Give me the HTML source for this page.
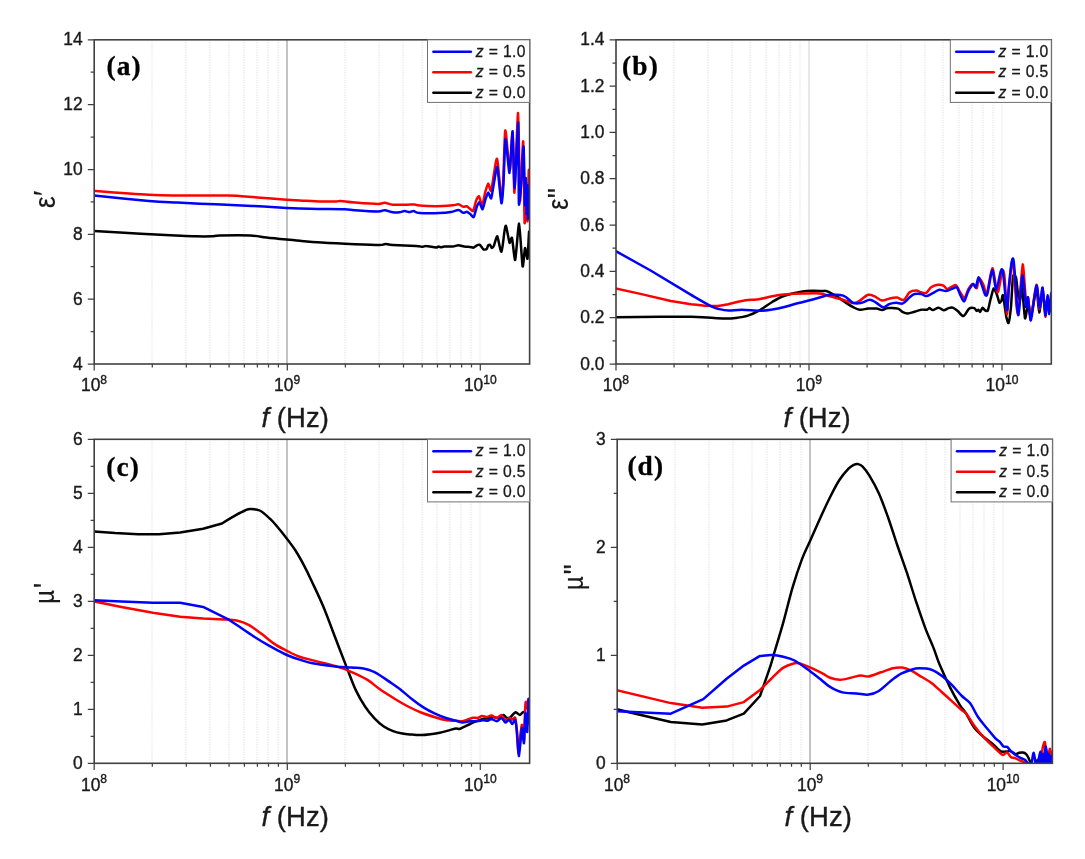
<!DOCTYPE html>
<html lang="en"><head><meta charset="utf-8"><title>Permittivity and permeability spectra</title>
<style>html,body{margin:0;padding:0;background:#fff}svg{display:block}text{white-space:pre}</style></head>
<body>
<svg width="1085" height="859" viewBox="0 0 1085 859">
<rect width="1085" height="859" fill="#fff"/>
<g id="panel-a">
<path d="M152 39.8V364M186 39.8V364M210 39.8V364M229 39.8V364M244 39.8V364M257 39.8V364M268 39.8V364M278 39.8V364M345 39.8V364M379 39.8V364M403 39.8V364M422 39.8V364M437 39.8V364M450 39.8V364M461 39.8V364M471 39.8V364" stroke="#ebebeb" stroke-width="2" stroke-dasharray="1 1.5" fill="none"/>
<path d="M287 39.8V364" stroke="#c3c3c3" stroke-width="2" fill="none"/>
<path d="M480 39.8V364" stroke="#f7f7f7" stroke-width="2" fill="none"/>
<clipPath id="clip-a"><rect x="94.2" y="39.8" width="435.4" height="324.2"/></clipPath>
<g clip-path="url(#clip-a)" fill="none" stroke-width="2.5" stroke-linejoin="round" stroke-linecap="round">
<path d="M93.2 231C101 231.4 127.2 233 140.7 233.7C154.2 234.4 166.2 235.1 175.2 235.5C184.2 235.9 189.4 236.2 195.4 236.3C201.4 236.4 207.7 236.4 211.7 236.3C215.7 236.2 213.4 235.6 219.8 235.5C226.2 235.4 242.5 235.2 250.2 235.5C257.9 235.8 260.4 236.8 266.4 237.5C272.4 238.2 281.2 239 286.7 239.5C292.2 240 294.2 240.3 300 240.8C305.8 241.3 312.6 241.9 321.6 242.5C330.6 243.1 345.1 243.8 354.7 244.2C364.3 244.6 374.5 245 379.6 245C384.7 245 383.2 244 385.4 244C387.6 244 387.8 244.7 392.9 245C398 245.3 411.2 245.8 416.1 246.1C421 246.4 421.2 246.8 422.8 246.8C423.8 246.8 424.8 245.9 426.1 246C428.3 246.1 434 247.4 436 247.5C437.2 247.6 438 246.5 438.5 246.5C439 246.5 440.4 247.3 441 247.3C441.6 247.3 443.1 246.7 444.3 246.6C446.2 246.5 450.3 246.7 452.6 246.5C454.9 246.3 456.5 245.3 458.4 245.3C460.3 245.3 462.3 246.2 464.2 246.5C466.1 246.8 468.5 246.7 470 246.9C470.9 247 472.7 247.8 473.3 247.7C473.9 247.6 475.9 245.9 476.5 245.6C477.1 245.3 479.1 244.4 479.8 244.8C480.5 245.2 482.7 248.9 483.4 249.3C484.1 249.7 486.2 249.3 486.7 248.9C487.2 248.5 487.8 246 488.1 245.6C488.4 245.2 489.6 244.6 490 244.8C490.4 245.1 491.6 248 492 248.1C492.4 248.2 493.5 246.8 494 245.6C494.5 244.4 496.6 235.7 497.3 236.3C498 236.9 500.6 252.9 501.4 251.8C502.8 250.1 504.3 227.2 505.6 225.7C506.4 224.8 508.9 241.6 509.5 242.8C510.1 244 511.4 236.2 512 237.9C512.6 239.6 514.5 261.3 515.2 259.9C515.9 258.5 518.4 222.9 519.1 223.6C519.8 224.2 522 263.9 522.6 266.4C523.2 268.8 524.5 248.9 525 248.1C525.5 247.3 527.1 260.3 527.5 258.7C527.9 257.1 528.8 233.7 529.1 231.8C529.4 229.9 530.5 239.2 530.6 240" stroke="#000"/>
<path d="M93.2 190.7C102.4 191.4 134.9 193.9 148.8 194.7C162.7 195.5 164.1 195.4 177.2 195.5C190.3 195.6 215.5 195.3 227.9 195.5C240.3 195.7 242.5 196.3 252.2 197C261.9 197.7 278.8 199.2 286.7 199.8C294.6 200.4 294.2 200.1 300 200.4C305.8 200.7 315.6 201.3 321.6 201.5C327.6 201.7 333.4 201.6 336.5 201.5C338.4 201.4 338.8 200.8 340.6 200.9C343.6 201.1 348.5 202 354.7 202.5C360.9 203 373.1 204 378 204C382.9 204 382.1 202.7 384.6 202.8C387.1 202.9 389.3 204.4 392.9 204.7C396.5 205 402.6 204.7 406.2 204.7C409.8 204.7 412.3 204.4 414.5 204.5C416.7 204.6 415.9 205.2 419.4 205.5C422.9 205.8 430.5 206.2 436 206.2C441.5 206.2 448.9 205.6 452.6 205.3C456.3 205 456.6 204.1 458.4 204.3C460.2 204.5 462 206.5 463.4 206.8C464.2 207 466 206 466.7 206.2C467.4 206.4 469.3 208.4 470 208.9C470.7 209.4 472.7 211.7 473.3 210.9C473.9 210.1 475.5 202.2 476.1 200.7C476.7 199.2 478.4 195.8 479 196.3C479.6 196.8 481.6 206 482.2 205.6C482.8 205.2 484.5 194.8 485.1 192.6C485.7 190.4 487.5 183.8 488.1 183.6C488.7 183.4 490.4 191.7 491 191C491.6 190.3 493 179.5 493.6 176.3C494.2 173.1 496.3 156.6 497.1 158.9C498.4 162.6 500.4 195.5 501.4 199C502 201.1 502.9 186.9 503.3 180C503.7 173.1 504.6 131.4 505.2 130.4C506.3 128.8 508.6 169.6 509.8 170C510.5 170.3 512.1 130.7 512.6 133C513.1 135.3 513.9 194.6 514.4 192.6C514.9 190.6 517.5 112.1 518.1 112.9C518.7 113.7 519.5 198.2 520 201C520.5 203.8 522.7 139.2 523.2 141.4C523.7 143.6 524.3 217.9 524.6 222.8C524.9 227.7 525.7 190.2 526 190C526.3 189.8 527.2 223.2 527.5 221.2C527.8 219.2 528.5 173.8 528.8 170.3C529.1 166.8 530.4 184.4 530.6 186" stroke="#f00"/>
<path d="M93.2 195.5C102.4 196.4 134.9 199.8 148.8 201C162.7 202.2 166.2 202.1 177.2 202.6C188.2 203.1 203.3 203.8 215.7 204.3C228.1 204.8 240.5 205.3 252.2 205.9C263.9 206.5 278.8 207.5 286.7 207.9C294.6 208.3 294.8 208.3 300 208.5C305.2 208.7 310.8 208.9 318.2 209C325.6 209.1 338.8 209.1 344.8 209.3C350.8 209.5 349.2 209.9 354.7 210.3C360.2 210.7 373.1 211.5 378 211.5C382.9 211.5 382.1 210.2 384.6 210.3C387.1 210.4 390.4 212 392.9 212.3C395.4 212.6 397.6 212.5 399.5 212.3C401.4 212.1 402.9 211.1 404.5 211.1C406.1 211.1 408 212.1 409.5 212.1C410.4 212.1 412.6 211 413.6 211.1C415.2 211.2 415.2 212.7 419.4 213C423.6 213.3 434.1 213.3 439.3 213.1C444.5 212.9 447.8 212.5 451 212C454.2 211.5 456.4 210 458.4 210.1C460.4 210.2 462 212.5 463.4 212.8C464.2 213 466 211.7 466.7 211.8C467.4 211.9 469.3 213.3 470 213.8C470.7 214.3 473 217.7 473.7 217C474.4 216.3 476.3 208 476.9 206.5C477.5 205 478.8 202.1 479.4 202.4C480 202.7 482 209.6 482.6 209.3C483.2 209 484.9 200.8 485.5 199.1C486.1 197.4 487.7 192.7 488.3 192.6C488.9 192.5 490.6 199.3 491.2 198.3C491.8 197.3 493.4 185.9 494 182.8C494.6 179.7 496.6 165 497.3 167C498 169 500.8 201.5 501.4 203.2C502 204.9 503 190.8 503.4 184.4C503.8 178 504.9 140 505.5 138.9C506.1 137.8 508.8 173.8 509.5 173C510.2 172.2 512.1 129.7 512.6 131.2C513.1 132.7 514.1 188.9 514.7 188C515.3 187.1 517.8 121 518.2 122.6C518.6 124.2 518.6 198.3 518.9 204C519.2 209.7 521 185.7 521.5 180C522 174.3 523.2 144.2 523.6 146.7C524 149.2 524.8 201.9 525 205C525.2 208.1 525.6 177.1 525.8 178C526 178.9 526.4 213.3 526.6 214C526.8 214.7 527.3 184.5 527.4 185C527.5 185.5 527.8 218.2 527.9 218.7C528 219.2 528.5 190.3 528.6 190C528.7 189.7 529 215 529.2 216C529.4 217 530.5 201.6 530.6 200" stroke="#00f"/>
</g>
<rect x="94.2" y="39.8" width="435.4" height="324.2" fill="none" stroke="#404040" stroke-width="1.6"/>
<rect x="427.5" y="39.8" width="102.1" height="62.6" fill="#fff" stroke="#707070" stroke-width="1"/>
<path d="M433.4 51.8H470.9" stroke="#00f" stroke-width="2.5" stroke-linecap="round"/>
<text x="475.7" y="56.8" font-family='"Liberation Sans", Arial, sans-serif' font-size="15.7" fill="#1a1a1a" stroke="#1a1a1a" stroke-width="0.3" textLength="49.8" lengthAdjust="spacing"><tspan font-style="italic">z</tspan> = 1.0</text>
<path d="M433.4 72.3H470.9" stroke="#f00" stroke-width="2.5" stroke-linecap="round"/>
<text x="475.7" y="77.3" font-family='"Liberation Sans", Arial, sans-serif' font-size="15.7" fill="#1a1a1a" stroke="#1a1a1a" stroke-width="0.3" textLength="49.8" lengthAdjust="spacing"><tspan font-style="italic">z</tspan> = 0.5</text>
<path d="M433.4 92.8H470.9" stroke="#000" stroke-width="2.5" stroke-linecap="round"/>
<text x="475.7" y="97.8" font-family='"Liberation Sans", Arial, sans-serif' font-size="15.7" fill="#1a1a1a" stroke="#1a1a1a" stroke-width="0.3" textLength="49.8" lengthAdjust="spacing"><tspan font-style="italic">z</tspan> = 0.0</text>
<path d="M94.2 364v6.6M152.3 364v3.5M186.3 364v3.5M210.4 364v3.5M229.1 364v3.5M244.4 364v3.5M257.4 364v3.5M268.5 364v3.5M278.4 364v3.5M287.3 364v6.6M345.4 364v3.5M379.4 364v3.5M403.5 364v3.5M422.2 364v3.5M437.5 364v3.5M450.4 364v3.5M461.6 364v3.5M471.5 364v3.5M480.3 364v6.6M94.2 364h-6.4M94.2 299.2h-6.4M94.2 234.3h-6.4M94.2 169.5h-6.4M94.2 104.6h-6.4M94.2 39.8h-6.4M94.2 331.6h-3.5M94.2 266.7h-3.5M94.2 201.9h-3.5M94.2 137.1h-3.5M94.2 72.2h-3.5" stroke="#404040" stroke-width="1.25" fill="none"/>
<g font-family='"Liberation Sans", Arial, sans-serif' font-size="19.0" fill="#1a1a1a" stroke="#1a1a1a" stroke-width="0.4">
<text transform="translate(82.6 369.6) scale(0.915 1)" text-anchor="end">4</text>
<text transform="translate(82.6 304.8) scale(0.915 1)" text-anchor="end">6</text>
<text transform="translate(82.6 239.9) scale(0.915 1)" text-anchor="end">8</text>
<text transform="translate(82.6 175.1) scale(0.915 1)" text-anchor="end">10</text>
<text transform="translate(82.6 110.2) scale(0.915 1)" text-anchor="end">12</text>
<text transform="translate(82.6 45.4) scale(0.915 1)" text-anchor="end">14</text>
<text transform="translate(81 391.3) scale(0.915 1)">10<tspan dy="-7.6" font-size="13.2">8</tspan></text>
<text transform="translate(274.1 391.3) scale(0.915 1)">10<tspan dy="-7.6" font-size="13.2">9</tspan></text>
<text transform="translate(463.9 391.3) scale(0.915 1)">10<tspan dy="-7.6" font-size="13.2">10</tspan></text>
</g>
<text x="295.2" y="426.6" font-family='"Liberation Sans", Arial, sans-serif' font-size="27.5" fill="#1a1a1a" stroke="#1a1a1a" stroke-width="0.35" text-anchor="middle"><tspan font-style="italic">f</tspan> (Hz)</text>
<text transform="translate(54.66 207.92) rotate(-90) scale(0.87 0.98)" font-family='"Liberation Sans", Arial, sans-serif' font-size="30" fill="#1a1a1a" stroke="#1a1a1a" stroke-width="0.2">ε</text>
<text transform="translate(54.45 195.89) rotate(-90) scale(0.95 1.0)" font-family='"Liberation Sans", Arial, sans-serif' font-size="30" fill="#1a1a1a" stroke="#1a1a1a" stroke-width="0.2">′</text>
<text x="106.6" y="75.2" font-family='"Liberation Serif", "Times New Roman", serif' font-weight="bold" font-size="27.4" letter-spacing="1.1" fill="#000" stroke="#000" stroke-width="0.3">(a)</text>
</g>
<g id="panel-b">
<path d="M674 39.8V364M708 39.8V364M732 39.8V364M750 39.8V364M766 39.8V364M779 39.8V364M790 39.8V364M800 39.8V364M867 39.8V364M901 39.8V364M925 39.8V364M943 39.8V364M959 39.8V364M972 39.8V364M983 39.8V364M993 39.8V364" stroke="#ebebeb" stroke-width="2" stroke-dasharray="1 1.5" fill="none"/>
<path d="M809 39.8V364" stroke="#e9e9e9" stroke-width="2" fill="none"/>
<path d="M1002 39.8V364" stroke="#f7f7f7" stroke-width="2" fill="none"/>
<clipPath id="clip-b"><rect x="616" y="39.8" width="435.3" height="324.2"/></clipPath>
<g clip-path="url(#clip-b)" fill="none" stroke-width="2.5" stroke-linejoin="round" stroke-linecap="round">
<path d="M615 317.2L660.7 316.8L691.1 316.8C694.4 317 705.7 317.5 711.4 317.8C717.1 318.1 721.6 318.6 725.6 318.6C729.6 318.6 732 318.5 735.7 318C739.4 317.5 743.9 316.9 747.9 315.6C751.9 314.3 756 312.3 760 310.1C764 307.9 768.5 304.2 772.2 302C775.9 299.8 779 297.9 782.3 296.5C785.6 295.1 789.2 294.3 792.5 293.5C795.8 292.7 799.3 291.8 802.6 291.4C805.9 291 809.5 290.9 812.8 290.8C816.1 290.7 820.6 291 822.9 291C824.3 291 825.2 290.6 826.6 291.1C828.9 292 833.3 294.4 836.6 296.4C839.9 298.4 843.8 301.3 846.5 303.1C849.2 304.9 851 306.1 853.2 307.2C855.4 308.3 857.3 309.5 859.8 309.7C862.3 309.9 865.4 308.8 868.1 308.6C870.8 308.4 874.1 308.4 876.4 308.6C878.7 308.8 880.3 310.2 882.2 310.1C884.1 310 885.4 308.3 888 308.1C890.6 307.9 895.5 307.9 898 308.6C900.5 309.3 901.3 311.4 902.9 312.2C904.5 313 906 313.6 907.9 313.5C909.8 313.4 912.4 312.3 914.6 311.7C916.8 311.1 919.2 310 921.2 309.7C923.2 309.4 925.6 310 927 309.7C927.8 309.5 928.9 308.1 929.5 308.1C930.1 308.1 931.9 310.1 932.8 310.1C934.3 310 936.8 307.7 938.6 307.7C940.4 307.7 942 310.1 943.6 310.2C945.2 310.3 947.1 308.5 948.6 308.1C949.5 307.8 951.8 307.3 952.7 307.6C954.2 308.1 955.9 309.6 957.7 311C959.5 312.4 961.6 316.4 963.5 316C965.4 315.6 967.5 309.7 969.3 308.4C971.1 307.1 973.1 307.7 974.3 308.1C975 308.4 976.4 310.8 976.8 311C977.2 311.2 978.1 309.6 978.4 309.7C978.7 309.8 979.7 312.1 980.1 311.9C980.5 311.7 982.1 307.9 982.6 307.8C983.1 307.7 984.7 310.1 985.2 310.4C985.7 310.7 987.4 311.5 987.9 310.4C988.4 309.3 989.9 301.7 990.5 299.5C991.1 297.3 993 289 993.6 288.5C994.2 288 996.2 292.8 996.8 294.2C997.4 295.6 998.9 302 999.4 302.6C999.9 303.2 1001.1 301.2 1001.5 300.5C1001.9 299.8 1002.5 293.7 1003 295.3C1003.5 296.9 1005.7 313.4 1006.2 316.2C1006.8 319 1008 323.8 1008.5 323C1009 322.2 1010.4 312.5 1010.9 307.8C1011.4 303.1 1012.5 279.4 1013 276.4C1013.5 273.4 1015.6 276 1016.1 278C1016.6 280 1017.8 293.8 1018.2 296C1018.6 298.2 1019.6 301.1 1020 300C1020.4 298.9 1021.3 283.2 1021.8 285C1022.3 286.8 1024.4 316.4 1025 318.3C1025.6 320.2 1027.6 303.8 1028.2 303.6C1028.8 303.4 1030 317.4 1030.8 316C1032.2 313.8 1035.1 290.6 1036.5 290C1037.3 289.6 1038.6 312.3 1039.2 312.5C1039.8 312.7 1042 291.9 1042.6 292C1043.2 292.1 1044.9 312.4 1045.4 313C1045.9 313.6 1047.1 298.2 1047.5 298C1047.9 297.8 1048.8 310.8 1049.3 311C1049.8 311.2 1052 301.1 1052.3 300" stroke="#000"/>
<path d="M615 288.2L640.4 293.9L670.8 301L691.1 304.2C693.8 304.5 702.9 305.5 707.3 305.8C711.7 306.1 714.2 306.2 717.5 306C720.8 305.8 723.6 305.2 727.6 304.4C731.6 303.6 736.5 301.9 741.8 301C747.1 300.1 755 299.7 760 298.9C765 298.1 767.8 297.1 772.2 296.3C776.6 295.5 781.4 294.8 786.4 294.3C791.4 293.8 797.1 293.6 802.6 293.5C808.1 293.4 815.5 293 820 293.5C824.5 294 826.4 295.4 830 296.4C833.6 297.4 837.8 298.2 841.6 299.3C845.4 300.4 850.2 302.9 853.2 303.1C856.2 303.3 857.3 302 859.8 300.6C862.3 299.2 865.6 295.5 868.1 294.8C870.6 294.1 872.4 295.4 874.7 296.4C877 297.4 879.7 300.3 882.2 300.6C884.7 300.9 887.2 298.9 889.7 298.4C892.2 297.9 894.8 297.4 897.1 297.6C899.4 297.8 901.7 300.7 903.8 299.8C905.9 298.9 907.6 293.8 909.6 292.3C911.6 290.8 914.3 290.6 916.2 290.6C918.1 290.6 919.6 291.9 921.2 292.3C922.9 292.7 924.6 293.6 926.2 292.8C927.8 292 929.2 288.6 931.1 287.3C933 286 935.7 285.1 937.8 284.8C939.9 284.5 942.1 285 943.6 285.7C944.5 286.1 946 288.9 946.9 289C948.4 289.1 951.2 286.8 952.7 286.2C953.6 285.8 955.2 284.6 956 285.2C957.2 286.2 958.8 290.2 960.2 292.3C961 293.6 963.5 298.4 964.3 298.1C965.7 297.6 967.1 291.3 968.5 289C969.3 287.6 971.8 284.1 972.6 284C973.4 283.9 976.2 288.8 976.8 288.2C977.4 287.6 978.2 278.5 978.9 278.2C980 277.6 982.1 282.2 983.4 284.8C984.2 286.4 985.8 295.7 986.7 294C988.2 291.3 990.8 268.9 992.4 268.2C993.4 267.8 995.9 287.7 996.5 290C997.1 292.3 997.7 293.1 998.3 291.1C999.3 287.9 1001.6 272.7 1002.6 270.5C1003.2 269.1 1004.2 273.1 1004.6 277.5C1005 281.9 1006.6 313.1 1007 314.1C1007.4 315.2 1008.4 293.4 1009 288C1009.6 282.6 1011.9 257.8 1012.7 259.7C1013.5 261.6 1016 301.6 1016.6 306.8C1017.2 312 1018 316.2 1018.6 312C1019.2 307.8 1022 265.2 1022.7 264.4C1023.5 263.6 1025.6 300.3 1026.1 303.6C1026.6 306.9 1027.5 296 1028 297.4C1028.5 298.8 1030 318.5 1030.8 317.2C1032.2 315.1 1035.1 286.2 1036.5 284.8C1037.4 284 1038.9 308.5 1039.5 308.9C1040.1 309.3 1042 287.6 1042.6 288.4C1043.2 289.2 1044.9 315.8 1045.4 316.7C1045.9 317.6 1047.1 297.5 1047.5 297C1047.9 296.5 1048.9 312.1 1049.3 312C1049.7 311.9 1050.9 297.2 1051.2 296C1051.5 294.8 1052.2 299.6 1052.3 300" stroke="#f00"/>
<path d="M615 250.7L650.6 270.5L691.1 294.9C694.4 296.8 706.7 304.1 711.4 306.4C716.1 308.7 716.7 308.4 719.5 309.1C722.3 309.8 724.9 310.4 728.6 310.5C732.3 310.6 736.6 309.7 741.8 309.7C747 309.7 755 310.7 760 310.7C765 310.7 768.2 310.1 772.2 309.5C776.2 308.9 780 308.1 784.4 307C788.8 305.9 793.9 304.2 798.6 303C803.3 301.8 808.8 300.6 812.8 299.5C816.8 298.4 820.3 297.2 822.9 296.5C825.5 295.8 825 295.2 828.3 295.1C831.6 295 839.1 294.3 843.2 295.6C847.3 296.9 850.2 301.6 853.2 302.8C856.2 304 858.8 303.3 861.5 302.8C864.2 302.3 867.3 299.8 869.8 299.8C872.3 299.8 874.2 301.6 876.4 302.8C878.6 304 880.8 307 883 307.2C885.2 307.4 887.5 304.6 889.7 303.9C891.9 303.2 894.1 302.9 896.3 302.8C898.5 302.7 900.7 304.3 902.9 303.4C905.1 302.5 907.7 298.9 909.6 297.3C911.5 295.7 912.7 294.5 914.6 294C916.5 293.5 919.3 293.7 921.2 294C923.1 294.3 924.3 296.2 926.2 296.1C928.1 296 930.6 294.1 932.8 293.1C935 292.1 937.2 290.1 939.4 289.8C941.6 289.5 943.9 291.3 946.1 291.1C948.3 290.9 950.9 289.1 952.7 288.5C953.8 288.1 956.1 286.7 956.9 287.3C957.6 287.9 959.5 293.4 960.2 294.8C960.9 296.2 963.2 301.8 964 301.4C965.4 300.7 966.9 293.5 968.5 290.6C970.1 287.7 972.3 284.5 973.5 284C974.2 283.7 975.4 288 975.9 287.3C976.4 286.6 977.8 277.6 978.4 277.4C979 277.1 980.9 283 981.7 284.8C983.1 287.8 985 297.7 986.8 295.3C988.6 292.9 990.8 271 992.4 270.1C993.3 269.6 995.2 290.1 996.2 290C997.8 289.9 1000.4 266.3 1002.2 269.6C1004 272.9 1005.9 307 1007 309.9C1007.7 311.6 1008.2 292 1008.8 286.9C1009.8 278.5 1011.7 254.4 1013.3 259.1C1014.9 263.8 1016.7 312.5 1018.2 315.2C1019.1 316.8 1021.6 276.2 1022.4 275.4C1023.2 274.6 1025.5 304.6 1026.1 306.8C1026.7 309 1027.5 296 1028 297.4C1028.5 298.8 1030 321.6 1030.8 320.4C1032.2 318.5 1035 287.9 1036.5 285.8C1037.4 284.5 1039.1 307.6 1039.7 307.8C1040.3 308 1042 286.7 1042.6 287.4C1043.2 288.1 1044.9 314.4 1045.4 315.2C1045.9 316 1047.1 295.4 1047.5 295.3C1047.9 295.2 1048.9 314.3 1049.3 314.1C1049.7 313.9 1050.9 294.6 1051.2 293.2C1051.5 291.8 1052.2 299.3 1052.3 300" stroke="#00f"/>
</g>
<rect x="616" y="39.8" width="435.3" height="324.2" fill="none" stroke="#404040" stroke-width="1.6"/>
<rect x="950.3" y="39.8" width="101.0" height="62.6" fill="#fff" stroke="#707070" stroke-width="1"/>
<path d="M956.2 51.8H993.7" stroke="#00f" stroke-width="2.5" stroke-linecap="round"/>
<text x="998.5" y="56.8" font-family='"Liberation Sans", Arial, sans-serif' font-size="15.7" fill="#1a1a1a" stroke="#1a1a1a" stroke-width="0.3" textLength="49.8" lengthAdjust="spacing"><tspan font-style="italic">z</tspan> = 1.0</text>
<path d="M956.2 72.3H993.7" stroke="#f00" stroke-width="2.5" stroke-linecap="round"/>
<text x="998.5" y="77.3" font-family='"Liberation Sans", Arial, sans-serif' font-size="15.7" fill="#1a1a1a" stroke="#1a1a1a" stroke-width="0.3" textLength="49.8" lengthAdjust="spacing"><tspan font-style="italic">z</tspan> = 0.5</text>
<path d="M956.2 92.8H993.7" stroke="#000" stroke-width="2.5" stroke-linecap="round"/>
<text x="998.5" y="97.8" font-family='"Liberation Sans", Arial, sans-serif' font-size="15.7" fill="#1a1a1a" stroke="#1a1a1a" stroke-width="0.3" textLength="49.8" lengthAdjust="spacing"><tspan font-style="italic">z</tspan> = 0.0</text>
<path d="M616 364v6.6M674.1 364v3.5M708.1 364v3.5M732.2 364v3.5M750.9 364v3.5M766.2 364v3.5M779.1 364v3.5M790.3 364v3.5M800.2 364v3.5M809 364v6.6M867.1 364v3.5M901.1 364v3.5M925.2 364v3.5M943.9 364v3.5M959.2 364v3.5M972.1 364v3.5M983.3 364v3.5M993.2 364v3.5M1002 364v6.6M616 364h-6.4M616 317.7h-6.4M616 271.4h-6.4M616 225.1h-6.4M616 178.7h-6.4M616 132.4h-6.4M616 86.1h-6.4M616 39.8h-6.4M616 340.8h-3.5M616 294.5h-3.5M616 248.2h-3.5M616 201.9h-3.5M616 155.6h-3.5M616 109.3h-3.5M616 63h-3.5" stroke="#404040" stroke-width="1.25" fill="none"/>
<g font-family='"Liberation Sans", Arial, sans-serif' font-size="19.0" fill="#1a1a1a" stroke="#1a1a1a" stroke-width="0.4">
<text transform="translate(604.4 369.6) scale(0.915 1)" text-anchor="end">0.0</text>
<text transform="translate(604.4 323.3) scale(0.915 1)" text-anchor="end">0.2</text>
<text transform="translate(604.4 277) scale(0.915 1)" text-anchor="end">0.4</text>
<text transform="translate(604.4 230.7) scale(0.915 1)" text-anchor="end">0.6</text>
<text transform="translate(604.4 184.3) scale(0.915 1)" text-anchor="end">0.8</text>
<text transform="translate(604.4 138) scale(0.915 1)" text-anchor="end">1.0</text>
<text transform="translate(604.4 91.7) scale(0.915 1)" text-anchor="end">1.2</text>
<text transform="translate(604.4 45.4) scale(0.915 1)" text-anchor="end">1.4</text>
<text transform="translate(602.8 391.3) scale(0.915 1)">10<tspan dy="-7.6" font-size="13.2">8</tspan></text>
<text transform="translate(795.8 391.3) scale(0.915 1)">10<tspan dy="-7.6" font-size="13.2">9</tspan></text>
<text transform="translate(985.6 391.3) scale(0.915 1)">10<tspan dy="-7.6" font-size="13.2">10</tspan></text>
</g>
<text x="817" y="426.6" font-family='"Liberation Sans", Arial, sans-serif' font-size="27.5" fill="#1a1a1a" stroke="#1a1a1a" stroke-width="0.35" text-anchor="middle"><tspan font-style="italic">f</tspan> (Hz)</text>
<text transform="translate(568.18 209.71) rotate(-90) scale(0.84 0.97)" font-family='"Liberation Sans", Arial, sans-serif' font-size="30" fill="#1a1a1a" stroke="#1a1a1a" stroke-width="0.2">ε</text>
<text transform="translate(569.96 198.3) rotate(-90) scale(0.9 1.0)" font-family='"Liberation Sans", Arial, sans-serif' font-size="32" fill="#1a1a1a" stroke="#1a1a1a" stroke-width="0.2">"</text>
<text x="622.1" y="75.2" font-family='"Liberation Serif", "Times New Roman", serif' font-weight="bold" font-size="27.4" letter-spacing="1.1" fill="#000" stroke="#000" stroke-width="0.3">(b)</text>
</g>
<g id="panel-c">
<path d="M152 439.3V763.3M186 439.3V763.3M210 439.3V763.3M229 439.3V763.3M244 439.3V763.3M257 439.3V763.3M268 439.3V763.3M278 439.3V763.3M345 439.3V763.3M379 439.3V763.3M403 439.3V763.3M422 439.3V763.3M437 439.3V763.3M450 439.3V763.3M461 439.3V763.3M471 439.3V763.3" stroke="#ebebeb" stroke-width="2" stroke-dasharray="1 1.5" fill="none"/>
<path d="M287 439.3V763.3" stroke="#c3c3c3" stroke-width="2" fill="none"/>
<path d="M480 439.3V763.3" stroke="#f7f7f7" stroke-width="2" fill="none"/>
<clipPath id="clip-c"><rect x="94.2" y="439.3" width="435.4" height="324"/></clipPath>
<g clip-path="url(#clip-c)" fill="none" stroke-width="2.5" stroke-linejoin="round" stroke-linecap="round">
<path d="M93.2 531.4L115.1 533.1L138.2 534.2L159.1 534.2L180.1 532.5L203.1 528.7L222 523.5C224.4 522 232.9 516.8 236.7 514.7C240.5 512.6 242.8 511.4 245 510.5C247.2 509.6 247.9 509 250.3 509C252.7 509 256.4 508.9 259.7 510.5C263 512.1 267.1 516 270.2 518.9C273.3 521.8 275.8 525 278.6 528.3C281.4 531.6 284.1 535.2 286.9 538.8C289.7 542.4 292.5 546 295.3 550.3C298.1 554.6 301 559.8 303.7 564.9C306.4 570 308.4 574.1 311.6 581C314.8 587.9 319.5 597.4 323.3 606.6C327.1 615.8 331.1 626.8 334.9 636.8C338.7 646.8 343.1 658.3 346.6 667.1C350.1 675.9 352.8 683.9 355.9 690.4C359 696.9 362.1 702.1 365.2 706.7C368.3 711.3 371.4 715 374.5 718.3C377.6 721.6 380.7 724.4 383.8 726.5C386.9 728.6 390 729.9 393.1 731.1C396.2 732.3 399.3 732.9 402.4 733.5C405.5 734.1 408.7 734.3 411.8 734.6C414.9 734.9 418 735.2 421.1 735.1C424.2 735 427.3 734.6 430.4 734.2C433.5 733.8 436.6 733.4 439.7 732.8C442.8 732.2 446.3 731.1 449 730.4C451.7 729.7 454.3 728.6 456 728.4C457 728.3 458.6 729.2 459.3 729.1C460 729 462.3 727.7 463.4 727.2C465.2 726.4 467.8 725 470 724C472.2 723 474.4 722 476.5 721.2C478.6 720.4 481.2 719.4 483 718.9C484.8 718.4 486 718.7 487.7 718.4C489.4 718.1 491.5 717.1 493.2 717C494.9 716.9 496.2 718.2 497.9 717.9C499.6 717.6 502 715.1 503.5 715.1C504.4 715.1 506.1 717.7 506.7 717.9C507.3 718.1 509.1 718.1 510 717.5C511.5 716.6 514 712.7 515.6 712.3C516.6 712.1 519.1 715.1 519.8 715.1C520.5 715.1 522.1 712.5 522.6 712.3C523.1 712.1 524.5 712.4 524.9 712.8C525.3 713.2 526.4 716 527 716C527.6 716 530.2 713.6 530.6 713.3" stroke="#000"/>
<path d="M93.2 601.2L121.4 606.9L152.9 612.7L180.1 616.7L203.1 618.4L224.1 619.4C226.2 619.6 232.6 619.6 236.7 620.5C240.8 621.4 245.1 622.9 249.2 625.1C253.3 627.3 257.6 631 261.8 634.1C266 637.2 270.3 641.1 274.4 643.9C278.5 646.7 282.8 648.7 286.9 650.8C291 652.9 295 655.1 299.5 656.7C304 658.3 308.2 659.1 314 660.6C319.8 662.1 328.8 664.1 334.9 665.9C341 667.7 345.8 669.5 351.2 671.8C356.6 674.1 362.9 677.1 367.5 679.9C372.1 682.7 375 685.8 379.2 688.8C383.4 691.8 388.5 695 393.1 697.8C397.7 700.6 402.5 703.6 407.1 706C411.7 708.4 416.5 710.7 421.1 712.5C425.7 714.3 430.8 715.9 435 717.2C439.2 718.5 443.2 719.6 446.7 720.2C450.2 720.8 453.4 720.6 456 720.8C458.6 721 460.7 721.4 462.5 721.2C464.3 721 465.5 720.4 467.2 719.8C468.9 719.2 471.1 718 472.8 717.7C474.5 717.4 475.9 718.2 477.4 717.9C478.9 717.6 480.6 716.2 482.1 716.1C483.6 716 485.2 717.1 486.7 717C488.2 716.9 489.7 715.5 491.4 715.6C493.1 715.7 495.3 718 497 717.9C498.7 717.8 500.1 714.7 501.6 715.1C502.5 715.3 505 720 505.8 720.3C506.6 720.6 508.9 717.9 509.5 717.9C510.1 717.9 511.3 719.8 511.9 719.8C512.5 719.8 514.6 716.8 515.1 717.5C515.6 718.2 516.2 723.6 516.5 727.2C516.8 730.8 518 752.8 518.4 753.3C518.8 753.8 520.3 734.7 520.7 731.9C521.1 729.1 521.8 724.1 522.1 724.9C522.4 725.7 523.7 742.4 524 740.3C524.3 738.2 525.1 707.7 525.4 704C525.7 700.3 527 702.5 527.2 703C527.4 703.5 527.6 709 527.7 708.6C527.8 708.2 528.3 697.9 528.6 698.8C528.9 699.7 530.4 716.1 530.6 718" stroke="#f00"/>
<path d="M93.2 600.1L121.4 601.6L152.9 602.7L180.1 602.7L203.1 606.9L215.7 613.1L228.3 619.4C230.4 620.8 236.8 625 240.9 627.8C245 630.6 248.9 633.3 253.4 636.2C257.9 639.1 263.9 642.8 268.1 645.2C272.3 647.6 275.5 649.2 278.6 650.8C281.7 652.4 283.5 653.5 286.9 655C290.3 656.5 295 658.2 299.5 659.6C304 661 308.2 662.5 314 663.6C319.8 664.7 328.8 665.7 334.9 666.4C341 667.1 347.1 667.3 351.2 667.6C355.3 667.9 357.5 667.7 360 668C362.5 668.3 364.6 668.7 366.5 669.2C368.4 669.7 369.8 670.1 371.5 670.8C373.2 671.5 374 671.7 376.8 673.4C379.6 675.1 384.7 678.5 388.5 681.1C392.3 683.7 396.3 686.2 400.1 689.2C403.9 692.2 408 696 411.8 699C415.6 702 419.6 705 423.4 707.4C427.2 709.8 431.2 711.9 435 713.7C438.8 715.5 443.2 717.1 446.7 718.3C450.2 719.5 453.4 720 456 720.7C458.6 721.4 460.2 722.5 462.5 722.6C464.8 722.7 467.7 721.4 470 721.2C472.3 721 474.4 721.3 476.5 721.2C478.6 721.1 481.2 720.4 483 720.3C484.8 720.2 486.3 720.9 487.7 720.7C488.5 720.6 490.5 718.9 491.4 718.9C492.9 719 495.3 721.4 497 721.2C498.7 721 500.2 717.7 501.6 717.9C502.4 718 504.6 722.4 505.3 722.6C506.1 722.8 508.4 719.7 509.1 719.8C509.8 719.9 511.7 724 512.3 724C512.9 724 514.6 719 515.1 719.8C515.6 720.6 516.6 728.3 517 731.9C517.4 735.5 518.4 755.8 518.8 756.1C519.2 756.4 520.9 737.5 521.2 734.7C521.5 731.9 521.8 727.4 522.1 728.2C522.4 729 523.7 744.6 524 743.1C524.3 741.6 525.1 714.4 525.4 713.3C525.7 712.2 526.9 733.3 527.2 731.9C527.5 730.5 528.3 699.2 528.6 699.3C528.9 699.4 530.4 729.4 530.6 732.8" stroke="#00f"/>
</g>
<rect x="94.2" y="439.3" width="435.4" height="324" fill="none" stroke="#404040" stroke-width="1.6"/>
<rect x="427.5" y="439.3" width="102.1" height="62.6" fill="#fff" stroke="#707070" stroke-width="1"/>
<path d="M433.4 451.3H470.9" stroke="#00f" stroke-width="2.5" stroke-linecap="round"/>
<text x="475.7" y="456.3" font-family='"Liberation Sans", Arial, sans-serif' font-size="15.7" fill="#1a1a1a" stroke="#1a1a1a" stroke-width="0.3" textLength="49.8" lengthAdjust="spacing"><tspan font-style="italic">z</tspan> = 1.0</text>
<path d="M433.4 471.8H470.9" stroke="#f00" stroke-width="2.5" stroke-linecap="round"/>
<text x="475.7" y="476.8" font-family='"Liberation Sans", Arial, sans-serif' font-size="15.7" fill="#1a1a1a" stroke="#1a1a1a" stroke-width="0.3" textLength="49.8" lengthAdjust="spacing"><tspan font-style="italic">z</tspan> = 0.5</text>
<path d="M433.4 492.3H470.9" stroke="#000" stroke-width="2.5" stroke-linecap="round"/>
<text x="475.7" y="497.3" font-family='"Liberation Sans", Arial, sans-serif' font-size="15.7" fill="#1a1a1a" stroke="#1a1a1a" stroke-width="0.3" textLength="49.8" lengthAdjust="spacing"><tspan font-style="italic">z</tspan> = 0.0</text>
<path d="M94.2 763.3v6.6M152.3 763.3v3.5M186.3 763.3v3.5M210.4 763.3v3.5M229.1 763.3v3.5M244.4 763.3v3.5M257.4 763.3v3.5M268.5 763.3v3.5M278.4 763.3v3.5M287.3 763.3v6.6M345.4 763.3v3.5M379.4 763.3v3.5M403.5 763.3v3.5M422.2 763.3v3.5M437.5 763.3v3.5M450.4 763.3v3.5M461.6 763.3v3.5M471.5 763.3v3.5M480.3 763.3v6.6M94.2 763.3h-6.4M94.2 709.3h-6.4M94.2 655.3h-6.4M94.2 601.3h-6.4M94.2 547.3h-6.4M94.2 493.3h-6.4M94.2 439.3h-6.4M94.2 736.3h-3.5M94.2 682.3h-3.5M94.2 628.3h-3.5M94.2 574.3h-3.5M94.2 520.3h-3.5M94.2 466.3h-3.5" stroke="#404040" stroke-width="1.25" fill="none"/>
<g font-family='"Liberation Sans", Arial, sans-serif' font-size="19.0" fill="#1a1a1a" stroke="#1a1a1a" stroke-width="0.4">
<text transform="translate(82.6 768.9) scale(0.915 1)" text-anchor="end">0</text>
<text transform="translate(82.6 714.9) scale(0.915 1)" text-anchor="end">1</text>
<text transform="translate(82.6 660.9) scale(0.915 1)" text-anchor="end">2</text>
<text transform="translate(82.6 606.9) scale(0.915 1)" text-anchor="end">3</text>
<text transform="translate(82.6 552.9) scale(0.915 1)" text-anchor="end">4</text>
<text transform="translate(82.6 498.9) scale(0.915 1)" text-anchor="end">5</text>
<text transform="translate(82.6 444.9) scale(0.915 1)" text-anchor="end">6</text>
<text transform="translate(81 790.6) scale(0.915 1)">10<tspan dy="-7.6" font-size="13.2">8</tspan></text>
<text transform="translate(274.1 790.6) scale(0.915 1)">10<tspan dy="-7.6" font-size="13.2">9</tspan></text>
<text transform="translate(463.9 790.6) scale(0.915 1)">10<tspan dy="-7.6" font-size="13.2">10</tspan></text>
</g>
<text x="295.2" y="825.9" font-family='"Liberation Sans", Arial, sans-serif' font-size="27.5" fill="#1a1a1a" stroke="#1a1a1a" stroke-width="0.35" text-anchor="middle"><tspan font-style="italic">f</tspan> (Hz)</text>
<text transform="translate(53.86 603.65) rotate(-90) scale(0.8 0.93)" font-family='"Liberation Sans", Arial, sans-serif' font-size="30" fill="#1a1a1a" stroke="#1a1a1a" stroke-width="0.2">µ</text>
<text transform="translate(56.11 588.31) rotate(-90) scale(0.9 1.0)" font-family='"Liberation Sans", Arial, sans-serif' font-size="32" fill="#1a1a1a" stroke="#1a1a1a" stroke-width="0.2">'</text>
<text x="106.2" y="475.7" font-family='"Liberation Serif", "Times New Roman", serif' font-weight="bold" font-size="27.4" letter-spacing="1.1" fill="#000" stroke="#000" stroke-width="0.3">(c)</text>
</g>
<g id="panel-d">
<path d="M675 439.3V763.3M709 439.3V763.3M733 439.3V763.3M752 439.3V763.3M767 439.3V763.3M780 439.3V763.3M791 439.3V763.3M801 439.3V763.3M868 439.3V763.3M902 439.3V763.3M926 439.3V763.3M945 439.3V763.3M960 439.3V763.3M973 439.3V763.3M984 439.3V763.3M994 439.3V763.3" stroke="#ebebeb" stroke-width="2" stroke-dasharray="1 1.5" fill="none"/>
<path d="M810 439.3V763.3" stroke="#c3c3c3" stroke-width="2" fill="none"/>
<path d="M1003 439.3V763.3" stroke="#f7f7f7" stroke-width="2" fill="none"/>
<clipPath id="clip-d"><rect x="617.2" y="439.3" width="435.2" height="324"/></clipPath>
<g clip-path="url(#clip-d)" fill="none" stroke-width="2.5" stroke-linejoin="round" stroke-linecap="round">
<path d="M616.2 709.2L670.8 722L702.3 724.4L726.6 720.4L743.8 713.7L760 696C761.7 691.1 767.7 674.2 770.2 666.6C772.7 659 772.9 657.3 775.1 650C777.3 642.7 780.4 632.6 783.3 622.3C786.2 612 789.5 597.8 792.6 587.4C795.7 577 799.1 566.9 801.9 559.4C804.7 551.9 806.5 548.9 809.6 542C812.7 535.1 817.2 524.8 820.5 517.5C823.8 510.2 826.7 503.8 829.8 497.7C832.9 491.6 836.1 485.1 839.2 480.3C842.3 475.5 846 471.2 848.5 468.6C851 466 852.8 465.5 854.3 464.7C855.2 464.2 857 463.8 857.8 464C859.1 464.3 860.5 464.4 862.4 466.3C864.3 468.2 866.7 471.2 869.4 475.6C872.1 480 875.6 486.2 878.7 493.1C881.8 500 885 508.9 888.1 517.5C891.2 526.1 894.3 536.5 897.4 545.5C900.5 554.5 903.6 563 906.7 572.2C909.8 581.4 912.9 592.1 916 601.3C919.1 610.5 922.4 620.4 925.3 628.1C928.2 635.8 931.1 641.9 933.5 647.9C935.9 653.9 936.9 658.2 939.6 664.6C942.3 671 946.5 680.2 949.8 686.9C953.1 693.6 957.2 700.8 959.9 705.2C962.6 709.6 963.7 709.6 966 713.3C968.3 717 971.4 723.8 974.1 727.5C976.8 731.2 979.2 732.9 982.2 735.6C985.2 738.3 989.7 741.5 992.3 743.7C994.9 745.9 996.5 747.8 998 749.1C998.9 749.9 1000.2 751.3 1001.1 751.5C1002.6 751.9 1005.6 751.5 1007.1 751.4C1008 751.3 1009.5 750.8 1010.1 750.9C1010.7 751 1012.6 752.4 1013.2 752.7C1013.8 753 1015.3 754.2 1015.9 754.2C1016.5 754.2 1018.5 752.9 1019.2 752.7C1019.9 752.5 1022.1 752.4 1022.8 752.5C1023.5 752.6 1025.4 753.4 1025.9 753.9C1026.5 754.4 1027.9 756.7 1028.3 757.5C1028.7 758.3 1029.8 761.1 1030.1 761.8C1030.4 762.4 1030.9 763.6 1031.3 764C1031.7 764.4 1033.5 766.3 1034 766C1034.5 765.7 1036.3 760.6 1036.8 760.6C1037.3 760.6 1037.3 765.5 1039 766C1041.7 766.9 1051 766 1053.4 766" stroke="#000"/>
<path d="M616.2 690L670.8 703.1L702.3 707.8L726.6 706.6L743.8 702.1L760 690C762 688 768.3 681.5 772.2 677.8C776.1 674.1 779.7 670 783.4 667.6C787.1 665.2 791.7 663.9 794.5 663.2C797.3 662.5 797.6 662.7 800.6 663.6C803.6 664.5 809.1 667 812.8 668.7C816.5 670.4 820 672.2 822.9 673.7C825.8 675.2 827.2 676.8 830.1 677.8C833 678.8 836.6 679.9 840.3 679.8C844 679.7 849.1 678.1 852.4 677.4C855.7 676.7 857.9 675.6 860.6 675.4C863.3 675.2 865.4 676.9 868.7 676.4C872 675.9 876.8 673.6 880.8 672.3C884.8 671 889.5 669.1 893 668.3C896.5 667.5 899.1 667.2 902.1 667.6C905.1 668 908 669.2 911.2 670.7C914.4 672.2 918.1 674.8 921.4 676.8C924.7 678.8 928.2 680.4 931.5 682.9C934.8 685.4 938.4 689 941.7 692C945 695 948.5 698.1 951.8 701.1C955.1 704.1 959.6 708.2 961.9 710.2C963.3 711.4 964.8 711.8 966 713.3C968 715.8 971.4 721.7 974.1 725.4C976.8 729.1 979.2 732.3 982.2 735.6C985.2 738.9 989.6 743.1 992.3 745.7C995 748.3 996.9 749.9 998.6 751.5C1000.3 753.1 1001.5 755 1002.9 755.1C1004.3 755.2 1005.8 752.1 1007.1 752.4C1007.9 752.6 1009.9 756.3 1010.7 756.9C1012.1 757.9 1013.8 757.7 1015.6 758.4C1017.4 759.1 1019.8 760.4 1021.6 761.2C1023.4 762 1025.1 762.2 1026.5 763C1027.3 763.5 1028.7 765.7 1030 766C1032.2 766.5 1038.2 766.6 1040 766C1041 765.6 1040.7 764.3 1041 762.4C1041.3 760.5 1042.4 749.2 1042.8 747.2C1043.2 745.2 1044.5 741.2 1044.9 742.1C1045.3 743 1046.2 754.8 1046.5 756.3C1046.8 757.8 1048 758.2 1048.3 757.5C1048.6 756.8 1049.5 749.2 1049.8 748.8C1050.1 748.4 1050.6 753.8 1051 753.9C1051.4 754 1053.2 750.7 1053.4 750.3" stroke="#f00"/>
<path d="M616.2 711.2L670.8 713.7L703.3 699.1L726.6 678.8L743.8 665.6L760 655.9C762 655.8 768.5 655 772.2 655.1C775.9 655.2 778.6 655.6 782.3 656.5C786 657.4 789.8 658 794.5 660.5C799.2 663 806.5 668.7 810.7 671.7C814.9 674.7 816.8 676.3 820 678.8C823.2 681.3 826.4 684.7 830.1 686.9C833.8 689.1 837.9 691.3 842.3 692.4C846.7 693.5 852.1 693 856.5 693.4C860.9 693.8 865 695 868.7 694.6C872.4 694.2 875.1 693.3 878.8 691C882.5 688.7 887.3 683.7 891 680.8C894.7 677.9 897.8 675.5 901.1 673.7C904.4 671.9 908.2 670.6 911.2 669.7C914.2 668.8 916.1 668.3 919.4 668.3C922.7 668.3 927.8 668.5 931.5 669.7C935.2 670.9 938.4 673.3 941.7 675.8C945 678.3 948.5 681.6 951.8 684.9C955.1 688.2 958.9 693 961.9 696C964.9 699 967.3 699.6 970 703.1C972.7 706.6 975.5 713.3 978.2 717.3C980.9 721.3 983.5 724.1 986.3 727.5C989.1 730.9 992.8 735.5 995 737.9C997.2 740.3 998.4 740.4 999.8 741.8C1000.6 742.7 1002.8 746.1 1003.5 746.6C1004.2 747.1 1006.4 746.5 1007.1 746.9C1007.8 747.3 1009.9 750.1 1010.7 750.9C1012.1 752.3 1013.9 753.9 1015.6 755.1C1017.3 756.3 1019.4 757.3 1021 758.1C1022.6 758.9 1024.2 759.2 1025.3 760C1026 760.5 1027.1 762.5 1027.7 763C1028.3 763.5 1030.8 765.6 1031.3 765C1031.8 764.4 1032.4 758.2 1032.6 757C1032.8 755.8 1033.5 752.6 1033.7 752.7C1033.9 752.8 1034.5 756.7 1034.8 758C1035 759.3 1035.9 765.3 1036.2 766C1036.5 766.7 1037.2 765.6 1037.4 765C1037.6 764.4 1038 759.5 1038.2 759.5C1038.4 759.5 1038.8 766 1039 765.5C1039.2 765 1039.6 754.2 1039.8 754.2C1040 754.2 1040.4 765.4 1040.6 765.5C1040.8 765.6 1041.2 755 1041.4 755C1041.6 755 1042 765.5 1042.2 765.5C1042.4 765.5 1042.8 754.7 1043 754.7C1043.2 754.7 1043.6 765.5 1043.8 765.5C1044 765.5 1044.4 754.7 1044.6 754.7C1044.8 754.7 1045.2 766.1 1045.4 765.5C1045.6 764.9 1046 748.9 1046.2 748.9C1046.4 748.9 1046.8 765 1047 765.5C1047.2 766 1047.6 754.2 1047.8 754.2C1048 754.2 1048.4 765.2 1048.6 765.5C1048.8 765.8 1049.2 757.1 1049.4 757.1C1049.6 757.1 1050 765.6 1050.2 765.5C1050.4 765.4 1050.8 756 1051 756C1051.2 756 1051.6 765.3 1051.8 765.5C1052 765.7 1053.2 758.8 1053.4 758" stroke="#00f"/>
<path d="M1038.2 761C1038.3 760.5 1039.2 757 1039.4 756C1039.6 755 1040.2 751.5 1040.4 751.5C1040.6 751.5 1041.1 755.4 1041.3 756C1041.5 756.6 1041.7 757.7 1041.9 757.5C1042.1 757.3 1043.2 754 1043.4 753.9C1043.7 753.8 1044.2 756.9 1044.4 756.5C1044.6 756.1 1045.1 751 1045.2 750C1045.3 749 1045.7 746.5 1045.8 746.6C1045.9 746.7 1046.4 750.2 1046.5 751C1046.6 751.8 1047 754.7 1047.2 755C1047.4 755.3 1048.4 753.6 1048.6 753.9C1048.8 754.1 1049.3 757.2 1049.5 757.5C1049.7 757.8 1050.3 756.7 1050.5 756.5C1050.7 756.3 1051 755.5 1051.3 755.7C1051.6 756 1053.2 758.7 1053.4 759" stroke="#00f"/>
</g>
<rect x="617.2" y="439.3" width="435.2" height="324" fill="none" stroke="#404040" stroke-width="1.6"/>
<rect x="951.1" y="439.3" width="101.3" height="62.6" fill="#fff" stroke="#707070" stroke-width="1"/>
<path d="M957 451.3H994.5" stroke="#00f" stroke-width="2.5" stroke-linecap="round"/>
<text x="999.3" y="456.3" font-family='"Liberation Sans", Arial, sans-serif' font-size="15.7" fill="#1a1a1a" stroke="#1a1a1a" stroke-width="0.3" textLength="49.8" lengthAdjust="spacing"><tspan font-style="italic">z</tspan> = 1.0</text>
<path d="M957 471.8H994.5" stroke="#f00" stroke-width="2.5" stroke-linecap="round"/>
<text x="999.3" y="476.8" font-family='"Liberation Sans", Arial, sans-serif' font-size="15.7" fill="#1a1a1a" stroke="#1a1a1a" stroke-width="0.3" textLength="49.8" lengthAdjust="spacing"><tspan font-style="italic">z</tspan> = 0.5</text>
<path d="M957 492.3H994.5" stroke="#000" stroke-width="2.5" stroke-linecap="round"/>
<text x="999.3" y="497.3" font-family='"Liberation Sans", Arial, sans-serif' font-size="15.7" fill="#1a1a1a" stroke="#1a1a1a" stroke-width="0.3" textLength="49.8" lengthAdjust="spacing"><tspan font-style="italic">z</tspan> = 0.0</text>
<path d="M617.2 763.3v6.6M675.3 763.3v3.5M709.3 763.3v3.5M733.4 763.3v3.5M752.1 763.3v3.5M767.4 763.3v3.5M780.3 763.3v3.5M791.5 763.3v3.5M801.3 763.3v3.5M810.2 763.3v6.6M868.3 763.3v3.5M902.2 763.3v3.5M926.3 763.3v3.5M945.1 763.3v3.5M960.3 763.3v3.5M973.2 763.3v3.5M984.4 763.3v3.5M994.3 763.3v3.5M1003.1 763.3v6.6M617.2 763.3h-6.4M617.2 655.3h-6.4M617.2 547.3h-6.4M617.2 439.3h-6.4M617.2 709.3h-3.5M617.2 601.3h-3.5M617.2 493.3h-3.5" stroke="#404040" stroke-width="1.25" fill="none"/>
<g font-family='"Liberation Sans", Arial, sans-serif' font-size="19.0" fill="#1a1a1a" stroke="#1a1a1a" stroke-width="0.4">
<text transform="translate(605.6 768.9) scale(0.915 1)" text-anchor="end">0</text>
<text transform="translate(605.6 660.9) scale(0.915 1)" text-anchor="end">1</text>
<text transform="translate(605.6 552.9) scale(0.915 1)" text-anchor="end">2</text>
<text transform="translate(605.6 444.9) scale(0.915 1)" text-anchor="end">3</text>
<text transform="translate(604 790.6) scale(0.915 1)">10<tspan dy="-7.6" font-size="13.2">8</tspan></text>
<text transform="translate(797 790.6) scale(0.915 1)">10<tspan dy="-7.6" font-size="13.2">9</tspan></text>
<text transform="translate(986.7 790.6) scale(0.915 1)">10<tspan dy="-7.6" font-size="13.2">10</tspan></text>
</g>
<text x="818.2" y="825.9" font-family='"Liberation Sans", Arial, sans-serif' font-size="27.5" fill="#1a1a1a" stroke="#1a1a1a" stroke-width="0.35" text-anchor="middle"><tspan font-style="italic">f</tspan> (Hz)</text>
<text transform="translate(583.32 589.9) rotate(-90) scale(0.8 0.92)" font-family='"Liberation Sans", Arial, sans-serif' font-size="30" fill="#1a1a1a" stroke="#1a1a1a" stroke-width="0.2">µ</text>
<text transform="translate(585.56 574.4) rotate(-90) scale(0.9 1.0)" font-family='"Liberation Sans", Arial, sans-serif' font-size="32" fill="#1a1a1a" stroke="#1a1a1a" stroke-width="0.2">"</text>
<text x="627.4" y="475.2" font-family='"Liberation Serif", "Times New Roman", serif' font-weight="bold" font-size="27.4" letter-spacing="1.1" fill="#000" stroke="#000" stroke-width="0.3">(d)</text>
</g>
</svg>
</body></html>
